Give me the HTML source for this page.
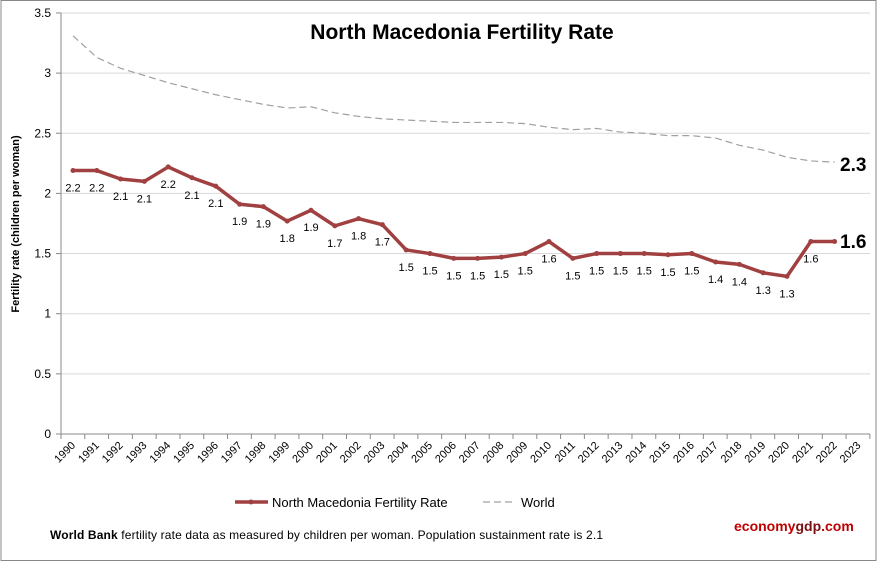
<!DOCTYPE html>
<html><head><meta charset="utf-8"><style>
body{margin:0;background:#fff}
svg{display:block;font-family:"Liberation Sans",Calibri,sans-serif}
</style></head><body>
<svg id="c" width="878" height="561" xmlns="http://www.w3.org/2000/svg">
<rect x="1" y="0.5" width="875" height="560" fill="#fff" stroke="#888"/>
</svg>
<script>
const s=document.getElementById('c');const NS='http://www.w3.org/2000/svg';
function el(t,a,txt){const e=document.createElementNS(NS,t);for(const k in a)e.setAttribute(k,a[k]);if(txt!==undefined)e.textContent=txt;s.appendChild(e);return e;}
const Y=v=>434-120.3*v, X=i=>73+23.8*i, L=61, R=870;
for(let k=0;k<=7;k++){const y=Y(k*0.5);
 if(k>0)el('line',{x1:L,x2:R,y1:y,y2:y,stroke:'#d9d9d9'});
 el('line',{x1:L-5,x2:L,y1:y,y2:y,stroke:'#888'});
 el('text',{x:L-10,y:y+4,'font-size':12,'text-anchor':'end',fill:'#000'},k==0?'0':(k*0.5).toString());}
el('line',{x1:L,x2:L,y1:13,y2:434,stroke:'#888'});
el('line',{x1:L,x2:R,y1:434,y2:434,stroke:'#888'});
for(let i=0;i<=34;i++){const x=L+i*23.79;el('line',{x1:x,x2:x,y1:434,y2:439,stroke:'#888'});}
for(let i=0;i<34;i++){const x=X(i)+3,y=446;el('text',{x:x,y:y,'font-size':11,'text-anchor':'end',transform:`rotate(-45 ${x} ${y})`},1990+i);}
const nm=[2.19,2.19,2.12,2.10,2.22,2.13,2.06,1.91,1.89,1.77,1.86,1.73,1.79,1.74,1.53,1.50,1.46,1.46,1.47,1.50,1.60,1.46,1.50,1.50,1.50,1.49,1.50,1.43,1.41,1.34,1.31,1.60,1.60];
const w=[3.31,3.13,3.04,2.98,2.92,2.87,2.82,2.78,2.74,2.71,2.72,2.67,2.64,2.62,2.61,2.60,2.59,2.59,2.59,2.58,2.55,2.53,2.54,2.51,2.50,2.48,2.48,2.46,2.40,2.36,2.30,2.27,2.26];
el('polyline',{points:w.map((v,i)=>X(i)+','+Y(v)).join(' '),fill:'none',stroke:'#a0a0a0','stroke-width':1.2,'stroke-dasharray':'7,4'});
el('polyline',{points:nm.map((v,i)=>X(i)+','+Y(v)).join(' '),fill:'none',stroke:'#a04040','stroke-width':3.5,'stroke-linejoin':'round'});
nm.forEach((v,i)=>{el('circle',{cx:X(i),cy:Y(v),r:2.5,fill:'#a04040'});
 if(i<32)el('text',{x:X(i),y:Y(v)+21,'font-size':11,'text-anchor':'middle'},v.toFixed(1));});
el('text',{x:840,y:171,'font-size':19,'font-weight':'bold'},'2.3');
el('text',{x:840,y:248,'font-size':19,'font-weight':'bold'},'1.6');
el('text',{x:462,y:39,'font-size':21,'font-weight':'bold','text-anchor':'middle'},'North Macedonia Fertility Rate');
el('text',{x:19,y:224,'font-size':11,'font-weight':'bold','text-anchor':'middle',transform:'rotate(-90 19 224)'},'Fertility rate (children per woman)');
el('line',{x1:235,x2:268,y1:502,y2:502,stroke:'#a04040','stroke-width':3.5});
el('circle',{cx:251,cy:502,r:2.5,fill:'#a04040'});
el('text',{x:272,y:507,'font-size':13},'North Macedonia Fertility Rate');
el('line',{x1:483,x2:516,y1:502,y2:502,stroke:'#a0a0a0','stroke-width':1.2,'stroke-dasharray':'7,4'});
el('text',{x:521,y:507,'font-size':13},'World');
const t=el('text',{x:50,y:539,'font-size':12,textLength:553});
t.innerHTML='<tspan font-weight="bold">World Bank</tspan>  fertility rate data as measured by children per woman.  Population sustainment rate is 2.1';
const g=el('text',{x:734,y:531,'font-size':14,'font-weight':'bold',fill:'#c00000'});
g.innerHTML='economy<tspan fill="#7a1010">gdp</tspan>.com';
</script>
</body></html>
